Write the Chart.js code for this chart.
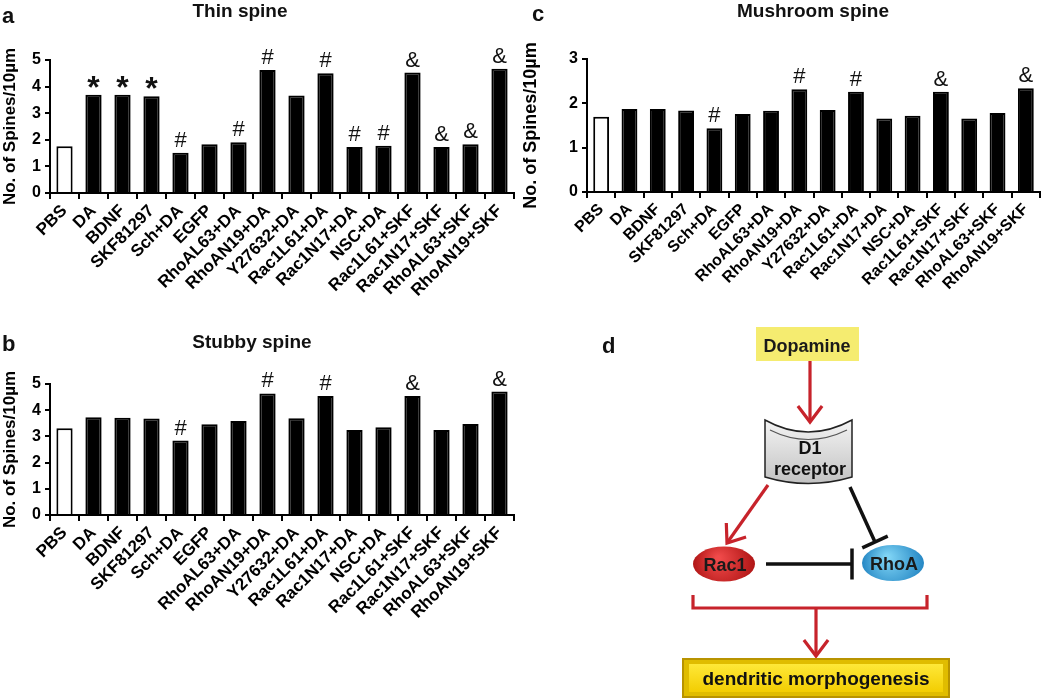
<!DOCTYPE html>
<html>
<head>
<meta charset="utf-8">
<script src="https://cdn.jsdelivr.net/npm/chart.js@4.4.0/dist/chart.umd.min.js"></script>
<style>
  body { margin: 0; background: #fff; width: 1050px; height: 699px; position: relative; overflow: hidden; font-family: Arial, "Liberation Sans", sans-serif; }
  canvas { position: absolute; }
  .t { position: absolute; font-weight: bold; white-space: nowrap; line-height: 1; color: #111; }
  .c { text-align: center; width: 240px; }
</style>
</head>
<body>
<canvas id="thin" width="520" height="320" style="left:0;top:0"></canvas>
<canvas id="stubby" width="520" height="375" style="left:0;top:324px"></canvas>
<canvas id="mushroom" width="530" height="320" style="left:520px;top:0"></canvas>
<canvas id="diagram" width="510" height="379" style="left:540px;top:320px"></canvas>

<div class="t" style="left:2px;top:5px;font-size:22px">a</div>
<div class="t c" style="left:120px;top:1px;font-size:19px">Thin spine</div>
<div class="t" style="left:2px;top:333px;font-size:22px">b</div>
<div class="t c" style="left:132px;top:332px;font-size:19px">Stubby spine</div>
<div class="t" style="left:532px;top:3px;font-size:22px">c</div>
<div class="t c" style="left:693px;top:1px;font-size:19px">Mushroom spine</div>
<div class="t" style="left:602px;top:335px;font-size:22px">d</div>

<script>
const categories = ['PBS', 'DA', 'BDNF', 'SKF81297', 'Sch+DA', 'EGFP', 'RhoAL63+DA', 'RhoAN19+DA',
  'Y27632+DA', 'Rac1L61+DA', 'Rac1N17+DA', 'NSC+DA', 'Rac1L61+SKF', 'Rac1N17+SKF', 'RhoAL63+SKF', 'RhoAN19+SKF'];

const thinValues     = [1.76, 3.69, 3.69, 3.64, 1.51, 1.83, 1.91, 4.62, 3.67, 4.50, 1.73, 1.78, 4.53, 1.73, 1.83, 4.67];
const stubbyValues   = [3.31, 3.73, 3.71, 3.68, 2.84, 3.46, 3.59, 4.64, 3.69, 4.54, 3.24, 3.35, 4.54, 3.24, 3.47, 4.71];
const mushroomValues = [1.70, 1.87, 1.87, 1.84, 1.44, 1.76, 1.83, 2.32, 1.85, 2.26, 1.66, 1.72, 2.26, 1.66, 1.78, 2.34];

const thinMarks     = ['', '*', '*', '*', '#', '', '#', '#', '', '#', '#', '#', '&', '&', '&', '&'];
const stubbyMarks   = ['', '', '', '', '#', '', '', '#', '', '#', '', '', '&', '', '', '&'];
const mushroomMarks = ['', '', '', '', '#', '', '', '#', '', '#', '', '', '&', '', '', '&'];

const thinMax = 5, stubbyMax = 5, mushroomMax = 3;
const yTitle = 'No. of Spines/10µm';

Chart.defaults.font.family = 'Arial, "Liberation Sans", sans-serif';
Chart.defaults.color = '#000';

// significance symbols over the bars
const marksPlugin = {
  id: 'marks',
  afterDatasetsDraw(chart, args, opts) {
    const ctx = chart.ctx;
    const meta = chart.getDatasetMeta(0);
    ctx.save();
    ctx.fillStyle = '#111';
    ctx.textAlign = 'center';
    opts.marks.forEach((m, i) => {
      if (!m) return;
      const bar = meta.data[i];
      if (m === '*') {
        ctx.font = 'bold 32px Arial, "Liberation Sans"';
        ctx.fillText(m, bar.x, bar.y + 3);
      } else {
        ctx.font = '22px Arial, "Liberation Sans"';
        ctx.fillText(m, bar.x, bar.y - 6);
      }
    });
    ctx.restore();
  }
};

function spineChart(id, values, marks, yMax, o) {
  return new Chart(document.getElementById(id), {
    type: 'bar',
    data: {
      labels: categories,
      datasets: [{
        data: values,
        backgroundColor: values.map((v, i) => i === 0 ? '#fff' : '#000'),
        borderColor: '#000',
        borderWidth: 2,
        barPercentage: 0.56,
        categoryPercentage: 1
      }]
    },
    options: {
      responsive: false,
      animation: false,
      layout: { padding: { top: o.top, right: o.right, left: 0, bottom: 0 } },
      plugins: { legend: { display: false }, tooltip: { enabled: false }, marks: { marks: marks } },
      scales: {
        x: {
          grid: { drawOnChartArea: false, tickLength: 6, color: '#000', lineWidth: 2, offset: true },
          border: { color: '#000', width: 2 },
          ticks: { autoSkip: false, maxRotation: 45, minRotation: 45, color: '#000', padding: 2,
                   font: { weight: 'bold', size: o.xFont } },
          afterFit: s => { s.height = o.xH; }
        },
        y: {
          min: 0, max: yMax,
          ticks: { stepSize: 1, color: '#000', padding: 4, font: { weight: 'bold', size: 16 } },
          grid: { drawOnChartArea: false, tickLength: 5, color: '#000', lineWidth: 2 },
          border: { color: '#000', width: 2 },
          title: { display: true, text: yTitle, color: '#000', padding: 0, font: { weight: 'bold', size: o.tFont } },
          afterFit: s => { s.width = o.yW; }
        }
      }
    },
    plugins: [marksPlugin]
  });
}

spineChart('thin', thinValues, thinMarks, thinMax, { top: 60, right: 6, xH: 127, yW: 50, xFont: 17, tFont: 17 });
spineChart('stubby', stubbyValues, stubbyMarks, stubbyMax, { top: 60, right: 6, xH: 184, yW: 50, xFont: 17, tFont: 17 });
spineChart('mushroom', mushroomValues, mushroomMarks, mushroomMax, { top: 59, right: 10, xH: 128, yW: 67, xFont: 16, tFont: 18 });

// panel d: pathway diagram
(function () {
  const ctx = document.getElementById('diagram').getContext('2d');
  ctx.translate(-540, -320);
  const red = '#c7232b', black = '#111';
  const font = (s) => 'bold ' + s + 'px Arial, "Liberation Sans", sans-serif';

  function arrow(x1, y1, x2, y2) {
    const a = Math.atan2(y2 - y1, x2 - x1), len = 20, sp = 0.65;
    ctx.strokeStyle = red; ctx.lineWidth = 3.2; ctx.lineCap = 'butt'; ctx.lineJoin = 'miter';
    ctx.beginPath(); ctx.moveTo(x1, y1); ctx.lineTo(x2, y2); ctx.stroke();
    ctx.beginPath();
    ctx.moveTo(x2 - len * Math.cos(a - sp), y2 - len * Math.sin(a - sp));
    ctx.lineTo(x2, y2);
    ctx.lineTo(x2 - len * Math.cos(a + sp), y2 - len * Math.sin(a + sp));
    ctx.stroke();
  }
  function inhibit(x1, y1, x2, y2, half) {
    const a = Math.atan2(y2 - y1, x2 - x1), nx = -Math.sin(a), ny = Math.cos(a);
    ctx.strokeStyle = black; ctx.lineWidth = 3.5;
    ctx.beginPath(); ctx.moveTo(x1, y1); ctx.lineTo(x2, y2); ctx.stroke();
    ctx.beginPath(); ctx.moveTo(x2 + nx * half, y2 + ny * half); ctx.lineTo(x2 - nx * half, y2 - ny * half); ctx.stroke();
  }
  function blob(cx, cy, rx, ry, c1, c2, text) {
    const g = ctx.createRadialGradient(cx - 6, cy - 6, 2, cx, cy, rx);
    g.addColorStop(0, c1); g.addColorStop(1, c2);
    ctx.fillStyle = g;
    ctx.beginPath(); ctx.ellipse(cx, cy, rx, ry, 0, 0, Math.PI * 2); ctx.fill();
    ctx.fillStyle = '#1a1a1a'; ctx.font = font(18); ctx.textAlign = 'center';
    ctx.fillText(text, cx + 1, cy + 7);
  }

  // Dopamine
  ctx.fillStyle = '#f5ec70';
  ctx.fillRect(756, 327, 103, 34);
  ctx.fillStyle = '#1a1a1a'; ctx.font = font(18); ctx.textAlign = 'center';
  ctx.fillText('Dopamine', 807, 352);
  arrow(810, 361, 810, 422);

  // D1 receptor
  const g = ctx.createLinearGradient(0, 420, 0, 490);
  g.addColorStop(0, '#f4f4f4'); g.addColorStop(1, '#bdbdbd');
  ctx.fillStyle = g;
  ctx.beginPath();
  ctx.moveTo(765, 420);
  ctx.quadraticCurveTo(808, 444, 852, 420);
  ctx.lineTo(852, 477);
  ctx.quadraticCurveTo(808, 490, 765, 477);
  ctx.closePath();
  ctx.fill();
  ctx.strokeStyle = '#222'; ctx.lineWidth = 1.5; ctx.stroke();
  ctx.strokeStyle = '#555'; ctx.lineWidth = 1.2;
  ctx.beginPath(); ctx.moveTo(770, 430); ctx.quadraticCurveTo(808, 449, 847, 430); ctx.stroke();
  ctx.fillStyle = '#111'; ctx.font = font(18);
  ctx.fillText('D1', 810, 454);
  ctx.fillText('receptor', 810, 475);

  arrow(768, 485, 727, 543);
  inhibit(850, 487, 875, 542, 14);

  blob(724, 564, 31, 17.5, '#f04a4a', '#b01515', 'Rac1');
  blob(893, 563, 31, 18, '#7fd4f5', '#2587c4', 'RhoA');
  inhibit(766, 564, 852, 564, 15.5);

  // bracket and arrow to outcome
  ctx.strokeStyle = red; ctx.lineWidth = 3.2;
  ctx.beginPath();
  ctx.moveTo(693, 595); ctx.lineTo(693, 608); ctx.lineTo(927, 608); ctx.lineTo(927, 595);
  ctx.stroke();
  arrow(816, 608, 816, 656);

  // dendritic morphogenesis box
  ctx.fillStyle = '#b89300';
  ctx.fillRect(682, 658, 268, 40);
  ctx.fillStyle = '#e0bc00';
  ctx.fillRect(684, 660, 264, 36);
  const gb = ctx.createLinearGradient(0, 663, 0, 693);
  gb.addColorStop(0, '#ffe93a'); gb.addColorStop(1, '#f2cc00');
  ctx.fillStyle = gb;
  ctx.fillRect(689, 664, 254, 28);
  ctx.fillStyle = '#111'; ctx.font = font(19);
  ctx.fillText('dendritic morphogenesis', 816, 685);
})();
</script>
</body>
</html>
